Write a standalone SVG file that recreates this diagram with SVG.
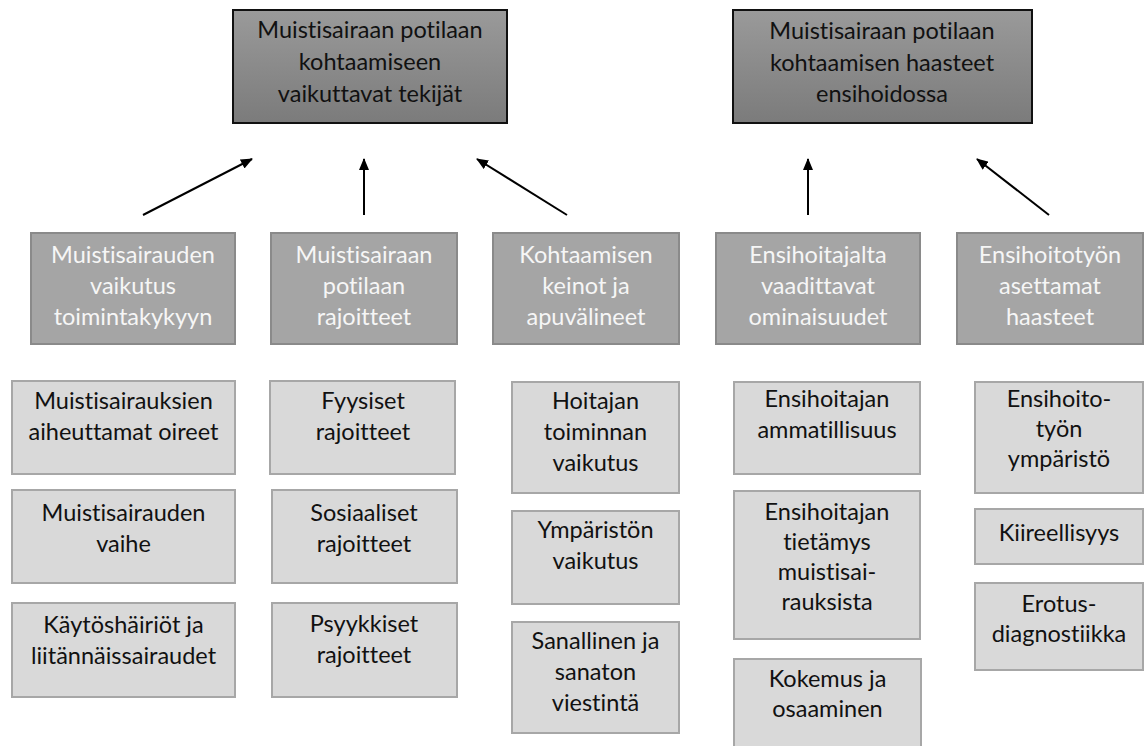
<svg xmlns="http://www.w3.org/2000/svg" width="1144" height="746" viewBox="0 0 1144 746">
<defs>
<linearGradient id="topGrad" x1="0" y1="0" x2="0" y2="1">
<stop offset="0" stop-color="#9a9a9a"/>
<stop offset="1" stop-color="#7b7b7b"/>
</linearGradient>
<marker id="arrow" viewBox="0 0 12 10" refX="11" refY="5" markerWidth="12" markerHeight="10" markerUnits="userSpaceOnUse" orient="auto">
<path d="M0,0 L12,5 L0,10 z" fill="#000"/>
</marker>
<style>
text{font-family:Lato,"Liberation Sans",sans-serif;font-size:23.5px;text-anchor:middle;font-variant-ligatures:none}
.top rect{fill:url(#topGrad);stroke:#111;stroke-width:2}
.top text{fill:#111}
.mid rect{fill:#a5a5a5;stroke:#8a8a8a;stroke-width:2}
.mid text{fill:#f6f6f6}
.low rect{fill:#d9d9d9;stroke:#a7a7a7;stroke-width:2}
.low text{fill:#111}
#connectors line{stroke:#000;stroke-width:2;marker-end:url(#arrow)}
</style>
</defs>
<rect width="1144" height="746" fill="#fff"/>

<g id="top-left" class="top">
<rect x="233" y="10" width="274" height="113"/>
<text x="370" y="38">Muistisairaan potilaan</text>
<text x="370" y="70">kohtaamiseen</text>
<text x="370" y="102">vaikuttavat tekijät</text>
</g>
<g id="top-right" class="top">
<rect x="733" y="10" width="299" height="113"/>
<text x="882" y="39">Muistisairaan potilaan</text>
<text x="882" y="71">kohtaamisen haasteet</text>
<text x="882" y="102">ensihoidossa</text>
</g>

<g id="connectors">
<line x1="143" y1="215" x2="252" y2="159"/>
<line x1="364" y1="215" x2="364" y2="159"/>
<line x1="567" y1="215" x2="477" y2="159"/>
<line x1="808" y1="215" x2="808" y2="159"/>
<line x1="1049" y1="215" x2="977" y2="159"/>
</g>

<g id="mid-1" class="mid">
<rect x="31" y="233" width="204" height="111"/>
<text x="133" y="263">Muistisairauden</text>
<text x="133" y="294">vaikutus</text>
<text x="133" y="325">toimintakykyyn</text>
</g>
<g id="mid-2" class="mid">
<rect x="271" y="233" width="186" height="111"/>
<text x="364" y="263">Muistisairaan</text>
<text x="364" y="294">potilaan</text>
<text x="364" y="325">rajoitteet</text>
</g>
<g id="mid-3" class="mid">
<rect x="493" y="233" width="186" height="111"/>
<text x="586" y="263">Kohtaamisen</text>
<text x="586" y="294">keinot ja</text>
<text x="586" y="325">apuvälineet</text>
</g>
<g id="mid-4" class="mid">
<rect x="716" y="233" width="204" height="111"/>
<text x="818" y="263">Ensihoitajalta</text>
<text x="818" y="294">vaadittavat</text>
<text x="818" y="325">ominaisuudet</text>
</g>
<g id="mid-5" class="mid">
<rect x="957" y="233" width="186" height="111"/>
<text x="1050" y="263">Ensihoitotyön</text>
<text x="1050" y="294">asettamat</text>
<text x="1050" y="325">haasteet</text>
</g>

<g id="low-1a" class="low">
<rect x="12" y="381" width="223" height="93"/>
<text x="123.5" y="409">Muistisairauksien</text>
<text x="123.5" y="440">aiheuttamat oireet</text>
</g>
<g id="low-1b" class="low">
<rect x="12" y="490" width="223" height="93"/>
<text x="123.5" y="521">Muistisairauden</text>
<text x="123.5" y="552">vaihe</text>
</g>
<g id="low-1c" class="low">
<rect x="12" y="603" width="223" height="94"/>
<text x="123.5" y="633">Käytöshäiriöt ja</text>
<text x="123.5" y="664">liitännäissairaudet</text>
</g>

<g id="low-2a" class="low">
<rect x="270" y="381" width="185" height="93"/>
<text x="363" y="409">Fyysiset</text>
<text x="363" y="440">rajoitteet</text>
</g>
<g id="low-2b" class="low">
<rect x="272" y="490" width="185" height="93"/>
<text x="364" y="521">Sosiaaliset</text>
<text x="364" y="552">rajoitteet</text>
</g>
<g id="low-2c" class="low">
<rect x="272" y="603" width="185" height="94"/>
<text x="364" y="632">Psyykkiset</text>
<text x="364" y="663">rajoitteet</text>
</g>

<g id="low-3a" class="low">
<rect x="512" y="382" width="167" height="111"/>
<text x="595.5" y="409">Hoitajan</text>
<text x="595.5" y="440">toiminnan</text>
<text x="595.5" y="471">vaikutus</text>
</g>
<g id="low-3b" class="low">
<rect x="512" y="511" width="167" height="93"/>
<text x="595.5" y="538">Ympäristön</text>
<text x="595.5" y="569">vaikutus</text>
</g>
<g id="low-3c" class="low">
<rect x="512" y="622" width="167" height="111"/>
<text x="595.5" y="649">Sanallinen ja</text>
<text x="595.5" y="680">sanaton</text>
<text x="595.5" y="711">viestintä</text>
</g>

<g id="low-4a" class="low">
<rect x="734" y="382" width="186" height="92"/>
<text x="827" y="407">Ensihoitajan</text>
<text x="827" y="438">ammatillisuus</text>
</g>
<g id="low-4b" class="low">
<rect x="734" y="491" width="186" height="148"/>
<text x="827" y="520">Ensihoitajan</text>
<text x="827" y="550">tietämys</text>
<text x="827" y="580">muistisai-</text>
<text x="827" y="610">rauksista</text>
</g>
<g id="low-4c" class="low">
<rect x="734" y="659" width="187" height="92"/>
<text x="827.5" y="687">Kokemus ja</text>
<text x="827.5" y="717">osaaminen</text>
</g>

<g id="low-5a" class="low">
<rect x="975" y="382" width="168" height="111"/>
<text x="1059" y="407">Ensihoito-</text>
<text x="1059" y="437">työn</text>
<text x="1059" y="467">ympäristö</text>
</g>
<g id="low-5b" class="low">
<rect x="975" y="509" width="168" height="55"/>
<text x="1059" y="541">Kiireellisyys</text>
</g>
<g id="low-5c" class="low">
<rect x="975" y="583" width="168" height="87"/>
<text x="1059" y="612">Erotus-</text>
<text x="1059" y="642">diagnostiikka</text>
</g>
</svg>
